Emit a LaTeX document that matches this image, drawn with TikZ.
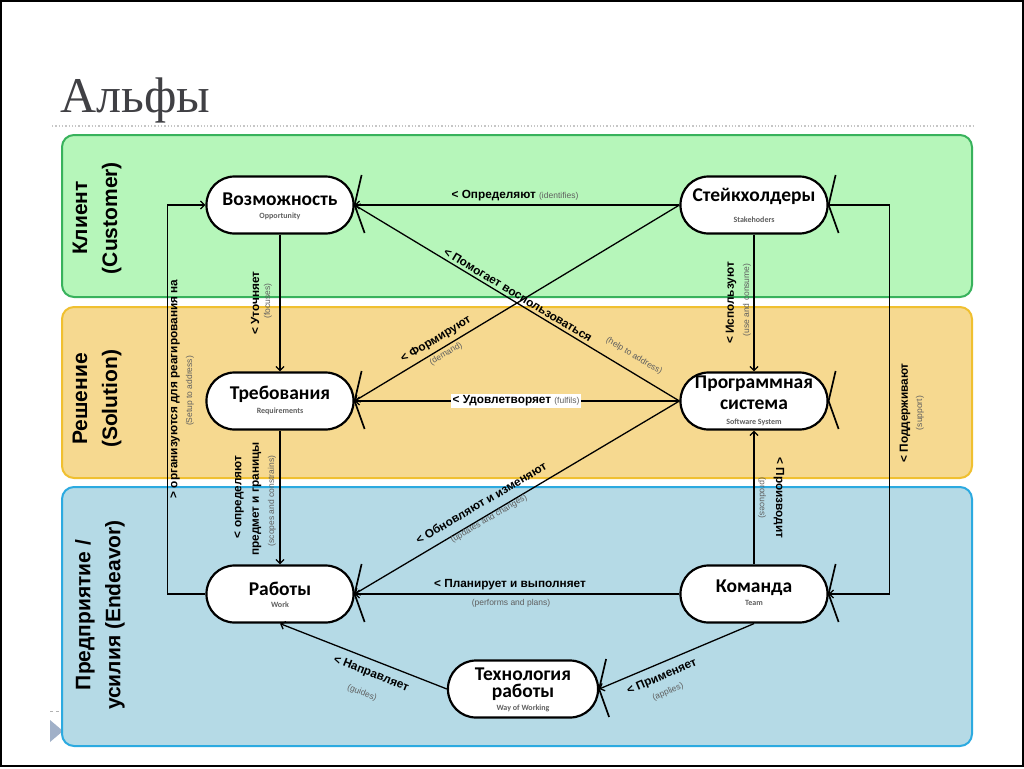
\documentclass[tikz,border=0pt]{standalone}
\usepackage{fontspec}
\setmainfont{Liberation Sans}
\newfontfamily\carl{Carlito}
\newfontfamily\titlef{Liberation Serif}
\usetikzlibrary{arrows.meta,calc}
\definecolor{gfill}{RGB}{182,246,186}
\definecolor{gline}{RGB}{56,178,92}
\definecolor{yfill}{RGB}{246,217,144}
\definecolor{yline}{RGB}{240,192,48}
\definecolor{bfill}{RGB}{181,218,230}
\definecolor{bline}{RGB}{44,170,224}
\definecolor{subgray}{RGB}{95,95,95}
\definecolor{titlegray}{RGB}{64,64,68}
\definecolor{trigray}{RGB}{160,176,200}
\newcommand\LblF{\bfseries\fontsize{11.8}{13}\selectfont}
\newcommand\GlF{\mdseries\fontsize{8.5}{10}\selectfont\color{subgray}}
\begin{document}
\begin{tikzpicture}[x=1pt,y=-1pt,
  band/.style={line width=2pt, rounded corners=12pt},
  alf/.style={draw, line width=2.2pt, fill=white, rounded corners=28pt, minimum width=147pt, minimum height=57pt, inner sep=0pt},
  mainT/.style={font=\carl\bfseries\fontsize{19.5}{21}\selectfont, inner sep=0pt},
  subT/.style={font=\carl\bfseries\fontsize{8}{9}\selectfont, text=subgray, inner sep=0pt},
  conn/.style={line width=1.3pt, -{Straight Barb[length=4pt,width=8pt]}},
  tail/.style={line width=1.7pt},
  lab/.style={inner sep=0pt, font=\LblF},
  glab/.style={inner sep=0pt, font=\GlF},
  bandT/.style={font=\bfseries\fontsize{21}{30}\selectfont, rotate=90, align=center, inner sep=0pt}
]
\useasboundingbox (0,0) rectangle (1024,768);
\fill[white] (0,0) rectangle (1024,768);
\draw[line width=2pt] (1,1) rectangle (1023,766);
% title
\node[inner sep=0pt, anchor=base west, font=\titlef\fontsize{50}{56}\selectfont, text=titlegray] (title) at (60,112) {Альфы};
\draw[dotted, line width=1.3pt, gray!45] (52,126) -- (974,126);
% slide decorations
\draw[dashed, gray!60] (50,711) -- (62,711);
\fill[trigray] (50,720) -- (63,731) -- (50,742) -- cycle;
% bands
\draw[band, draw=gline, fill=gfill] (62,135) rectangle (972,297);
\draw[band, draw=yline, fill=yfill] (62,307) rectangle (972,478);
\draw[band, draw=bline, fill=bfill] (62,487) rectangle (972,746);
\node[bandT] (cust) at (97,218) {Клиент\\(Customer)};
\node[bandT] (sol) at (97,399) {Решение\\(Solution)};
\node[bandT] (endv) at (100,615) {Предприятие /\\усилия (Endeavor)};
% alpha nodes
\node[alf] (opp) at (280,205) {};
\node[alf] (stk) at (754,205) {};
\node[alf] (req) at (280,401) {};
\node[alf] (sys) at (754,401) {};
\node[alf] (work) at (280,594) {};
\node[alf] (team) at (754,594) {};
\node[alf, minimum width=150pt] (tech) at (523,689) {};
\foreach \n in {opp,stk,req,sys,work,team,tech}{
  \draw[tail] ($(\n.east)+(7,-30)$) -- (\n.east) -- ($(\n.east)+(10,28)$);
}
\node[mainT] (oppT) at (280,199) {Возможность};
\node[subT] (oppS) at (280,216) {Opportunity};
\node[mainT] (stkT) at (754,196) {Стейкхолдеры};
\node[subT] (stkS) at (754,220) {Stakehoders};
\node[mainT] (reqT) at (280,394) {Требования};
\node[subT] (reqS) at (280,411) {Requirements};
\node[mainT] (sysT1) at (754,384) {Программная};
\node[mainT] (sysT2) at (754,405) {система};
\node[subT] (sysS) at (754,422) {Software System};
\node[mainT] (workT) at (280,589) {Работы};
\node[subT] (workS) at (280,605) {Work};
\node[mainT] (teamT) at (754,588) {Команда};
\node[subT] (teamS) at (754,603) {Team};
\node[mainT] (techT1) at (523,674) {Технология};
\node[mainT] (techT2) at (523,692) {работы};
\node[subT] (techS) at (523,708) {Way of Working};
% connectors
\draw[conn] (stk.west) -- (opp.east);
\draw[conn] (opp.south) -- (req.north);
\draw[conn] (req.south) -- (work.north);
\draw[conn] (work.west) -- ++(-38,0) |- (opp.west);
\draw[conn] (stk.south) -- (sys.north);
\draw[conn] (team.north) -- (sys.south);
\draw[conn] (stk.east) -- ++(61,0) |- (team.east);
\draw[conn] (team.west) -- (work.east);
\draw[conn] (sys.west) -- (work.east);
\draw[conn] (sys.west) -- (opp.east);
\draw[conn] (stk.west) -- (req.east);
\draw[conn] (team.south) -- (tech.east);
\draw[conn] (tech.west) -- (work.south);
\draw[conn] (sys.west) -- (req.east);
% labels
\node[lab] (l1) at (515,196) {< Определяют {\GlF (identifies)}};
\node[lab, rotate=90] (l2a) at (255,303) {< Уточняет};
\node[glab, rotate=90] (l2b) at (268,301) {(focuses)};
\node[lab, rotate=90] (l3a) at (239,497) {< определяют};
\node[lab, rotate=90] (l3b) at (257,499) {предмет и границы};
\node[glab, rotate=90] (l3c) at (272,501) {(scopes and constrains)};
\node[lab, rotate=90] (l4a) at (175,389) {> организуются для реагирования на};
\node[glab, rotate=90] (l4b) at (190,391) {(Setup to address)};
\node[lab, rotate=90] (l5a) at (731,303) {< Используют};
\node[glab, rotate=90] (l5b) at (747,300) {(use and consume)};
\node[lab, rotate=-90] (l6a) at (779,498) {< Производит};
\node[glab, rotate=-90] (l6b) at (762,498) {(produces)};
\node[lab, rotate=90] (l7a) at (905,413) {< Поддерживают};
\node[glab, rotate=90] (l7b) at (920,413) {(support)};
\node[lab] (l8a) at (510,585) {< Планирует и выполняет};
\node[glab] (l8b) at (511,603) {(performs and plans)};
\node[lab, rotate=30.55] (l9a) at (481,503) {< Обновляют и изменяют};
\node[glab, rotate=30.55] (l9b) at (489,519) {(updates and changes)};
\node[lab, rotate=-31.06] (l10a) at (518,295) {< Помогает воспользоваться};
\node[glab, rotate=-31.06] (l10b) at (634,356) {(help to address)};
\node[lab, rotate=30.9] (l11a) at (436,340) {< Формируют};
\node[glab, rotate=30.9] (l11b) at (446,354) {(demand)};
\node[lab, fill=white, inner sep=1.5pt] (l12) at (516,401) {< Удовлетворяет {\GlF (fulfils)}};
\node[lab, rotate=23.1] (l13a) at (662,677) {< Применяет};
\node[glab, rotate=23.1] (l13b) at (668,692) {(applies)};
\node[lab, rotate=-21.5] (l14a) at (371,674) {< Направляет};
\node[glab, rotate=-21.5] (l14b) at (362,693) {(guides)};
\end{tikzpicture}
\end{document}
